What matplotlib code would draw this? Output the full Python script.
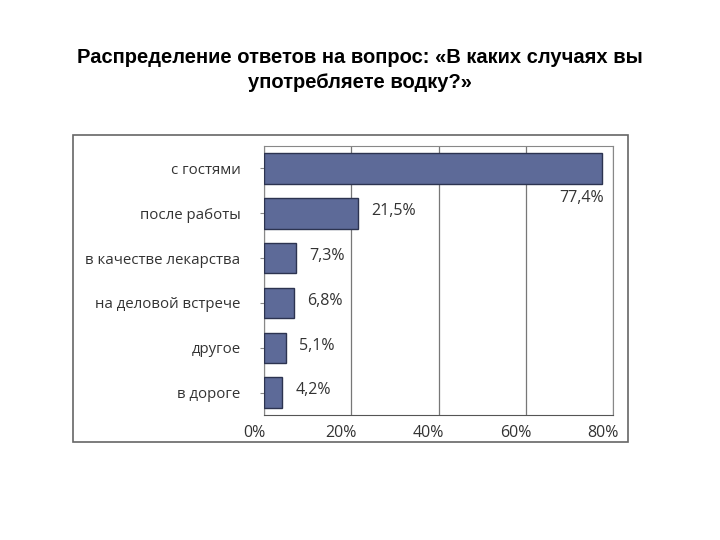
import matplotlib
matplotlib.use("Agg")
import matplotlib.pyplot as plt
import matplotlib.transforms as mtransforms
from matplotlib.patches import Rectangle

title = "Распределение ответов на вопрос: «В каких случаях вы\nупотребляете водку?»"
categories = ["с гостями", "после работы", "в качестве лекарства",
              "на деловой встрече", "другое", "в дороге"]
values = [77.4, 21.5, 7.3, 6.8, 5.1, 4.2]
labels = ["77,4%", "21,5%", "7,3%", "6,8%", "5,1%", "4,2%"]
xticks = [0, 20, 40, 60, 80]
xticklabels = ["0%", "20%", "40%", "60%", "80%"]

fig = plt.figure(figsize=(7.2, 5.4), dpi=100)
fig.patch.set_facecolor("white")

fig.text(0.5, 0.871, title, ha="center", va="center", fontsize=14.5,
         fontweight="bold", family="Liberation Sans", linespacing=1.42)

# outer frame
fig.patches.append(Rectangle((0.1014, 0.1815), 0.771, 0.5685, transform=fig.transFigure,
                             fill=False, edgecolor="#666666", linewidth=1.2))

ax = fig.add_axes([0.3667, 0.2315, 0.4847, 0.498])
y = list(range(len(categories)))
ax.barh(y, values, height=0.68, color="#5d6a98", edgecolor="#2c3350", linewidth=1.0, zorder=3)
ax.set_ylim(len(categories) - 0.5, -0.5)
ax.set_xlim(0, 80)
ax.set_xticks(xticks)
ax.set_xticklabels(xticklabels, fontsize=11.5, family="Open Sans", color="#333333")
ax.set_yticks(y)
ax.set_yticklabels(categories, fontsize=10.8, family="Open Sans", color="#333333")
ax.tick_params(axis="x", length=0, pad=7)
ax.tick_params(axis="y", length=3, color="#888888", pad=14)
ax.grid(axis="x", color="#777777", linewidth=0.9, zorder=0)
ax.spines["top"].set_color("#888888")
ax.spines["right"].set_color("#888888")
ax.spines["left"].set_color("#888888")
ax.spines["bottom"].set_color("#555555")

shift = mtransforms.ScaledTranslation(-10 / 100, 0, fig.dpi_scale_trans)
for t in ax.get_xticklabels():
    t.set_transform(t.get_transform() + shift)

for i, (v, lab) in enumerate(zip(values, labels)):
    if i == 0:
        ax.text(v + 0.6, i + 0.66, lab, ha="right", va="center", fontsize=11.5,
                family="Open Sans", color="#333333")
    else:
        ax.text(v + 3, i - 0.05, lab, ha="left", va="center", fontsize=11.5,
                family="Open Sans", color="#333333")

fig.savefig("out.png", dpi=100, facecolor="white")
